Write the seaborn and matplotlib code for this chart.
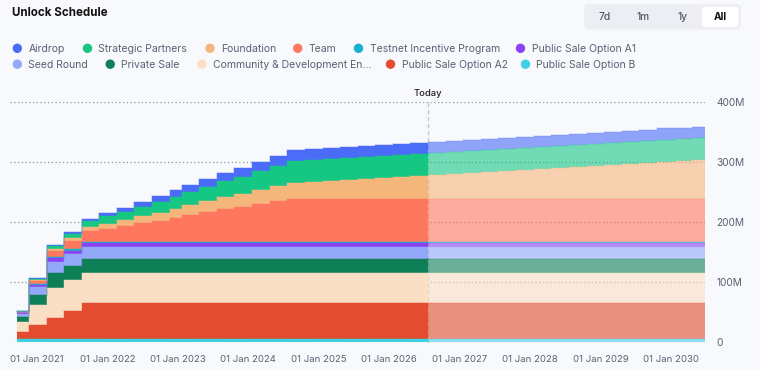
import matplotlib
matplotlib.use("Agg")
import matplotlib.pyplot as plt
from matplotlib.patches import FancyBboxPatch, Circle
from matplotlib.transforms import blended_transform_factory
import seaborn as sns
import pandas as pd
import numpy as np

# ---------------- data ----------------
step_dates = ["2020-09-21", "2020-11-21", "2021-02-21", "2021-05-21", "2021-08-21",
              "2021-11-21", "2022-02-21", "2022-05-21", "2022-08-21", "2022-11-21",
              "2023-01-21", "2023-04-21", "2023-07-21", "2023-10-21", "2024-01-21",
              "2024-04-21", "2024-07-21", "2024-10-21", "2025-01-21", "2025-04-21",
              "2025-07-21", "2025-10-21", "2026-01-21", "2026-04-21", "2026-07-21",
              "2026-10-21", "2027-01-21", "2027-04-21", "2027-07-21", "2027-10-21",
              "2028-01-21", "2028-04-21", "2028-07-21", "2028-10-21", "2029-01-21",
              "2029-04-21", "2029-07-21", "2029-10-21", "2030-01-21", "2030-04-21"]
end_date = "2030-06-27"
today_date = "2026-07-21"

# cumulative unlocked tokens (millions) per series, in legend order (top of stack first)
airdrop = [0.5, 2, 2.5, 3, 4.5, 5, 6, 8, 9.5, 11, 11.5, 12.5, 14, 15, 15.5, 17, 17.5, 18.5, 18.5, 18.5,
           18.5, 18.5, 18.5, 18.5, 18, 18, 18.5, 18.5, 18.5, 18.5, 18.5, 18.5, 18.5, 18.5, 18.5, 19, 19, 19, 19, 19]
strategic = [0.3, 2, 4, 7, 9.5, 12, 13.5, 16, 18, 19, 22, 24, 26, 28, 31, 33, 36, 36, 36, 36,
             36, 36, 36, 36, 36, 36, 36, 36, 36, 36, 36, 36, 36, 36, 36, 36, 36, 36, 36, 36]
foundation = [0.3, 1.5, 3.5, 5, 7, 8.5, 9.5, 11, 13, 15, 16.5, 18.5, 20.5, 22, 23.5, 25, 27, 28.5, 30, 32,
              33.5, 35, 37, 38.5, 40.5, 42, 43.5, 45, 47, 48.5, 50, 52, 53.5, 55, 57, 58.5, 60, 62, 63.5, 65]
team = [0, 4.5, 9.5, 14, 18, 22.5, 27.5, 32, 36, 41, 45.5, 50, 54.5, 59, 64, 68, 72, 72, 72, 72,
        72, 72, 72, 72, 72, 72, 72, 72, 72, 72, 72, 72, 72, 72, 72, 72, 72, 72, 72, 72]
testnet = [1, 1.5, 2, 2, 2, 2, 2, 2, 2, 2, 2, 2, 2, 2, 2, 2, 2, 2, 2, 2,
           2, 2, 2, 2, 2, 2, 2, 2, 2, 2, 2, 2, 2, 2, 2, 2, 2, 2, 2, 2]
public_a1 = [3, 4, 6, 6, 6, 6, 6, 6, 6, 6, 6, 6, 6, 6, 6, 6, 6, 6, 6, 6,
             6, 6, 6, 6, 6, 6, 6, 6, 6, 6, 6, 6, 6, 6, 6, 6, 6, 6, 6, 6]
seed = [5, 12.5, 19.5, 19.5, 19.5, 19.5, 19.5, 19.5, 19.5, 19.5, 19.5, 19.5, 19.5, 19.5, 19.5, 19.5, 19.5, 19.5, 19.5, 19.5,
        19.5, 19.5, 19.5, 19.5, 19.5, 19.5, 19.5, 19.5, 19.5, 19.5, 19.5, 19.5, 19.5, 19.5, 19.5, 19.5, 19.5, 19.5, 19.5, 19.5]
private = [8, 16, 24, 24, 24, 24, 24, 24, 24, 24, 24, 24, 24, 24, 24, 24, 24, 24, 24, 24,
           24, 24, 24, 24, 24, 24, 24, 24, 24, 24, 24, 24, 24, 24, 24, 24, 24, 24, 24, 24]
community = [17, 34, 50, 50, 50, 50, 50, 50, 50, 50, 50, 50, 50, 50, 50, 50, 50, 50, 50, 50,
             50, 50, 50, 50, 50, 50, 50, 50, 50, 50, 50, 50, 50, 50, 50, 50, 50, 50, 50, 50]
public_a2 = [12, 24, 36, 48, 60, 60, 60, 60, 60, 60, 60, 60, 60, 60, 60, 60, 60, 60, 60, 60,
             60, 60, 60, 60, 60, 60, 60, 60, 60, 60, 60, 60, 60, 60, 60, 60, 60, 60, 60, 60]
public_b = [5, 5, 5, 5, 5, 5, 5, 5, 5, 5, 5, 5, 5, 5, 5, 5, 5, 5, 5, 5,
            5, 5, 5, 5, 5, 5, 5, 5, 5, 5, 5, 5, 5, 5, 5, 5, 5, 5, 5, 5]

series_names = ["Airdrop", "Strategic Partners", "Foundation", "Team", "Testnet Incentive Program",
                "Public Sale Option A1", "Seed Round", "Private Sale", "Community & Development En...",
                "Public Sale Option A2", "Public Sale Option B"]
series_values = [airdrop, strategic, foundation, team, testnet, public_a1, seed, private,
                 community, public_a2, public_b]
series_colors = ["#4a6cf7", "#16c784", "#f5b67c", "#ff775f", "#16b1cc", "#8c43f6",
                 "#93a8f8", "#0e7f56", "#fbdfc4", "#e34c30", "#3fd0e4"]

year_ticks = [2021, 2022, 2023, 2024, 2025, 2026, 2027, 2028, 2029, 2030]
y_ticks = [0, 100, 200, 300, 400]

# ---------------- style ----------------
sns.set_theme(style="white")
plt.rcParams['font.family'] = ['Inter', 'DejaVu Sans']
BG = "#f8f9fd"
TXT = "#5b6172"

fig = plt.figure(figsize=(7.6, 3.7), dpi=100, facecolor=BG)
ax = fig.add_axes([10 / 760, 1 - 342.5 / 370, 695 / 760, (342.5 - 101.7) / 370])
ax.set_facecolor(BG)

dates = pd.to_datetime(step_dates)
end = pd.Timestamp(end_date)
today = pd.Timestamp(today_date)
past_idx = np.where(dates < today)[0]
fut_idx = np.where(dates >= today)[0]
x_past = list(dates[past_idx]) + [today]
x_fut = list(dates[fut_idx]) + [end]

base = np.zeros(len(dates))
for name, vals, col in reversed(list(zip(series_names, series_values, series_colors))):
    top = base + np.array(vals, dtype=float)
    bp = list(base[past_idx]) + [base[past_idx[-1]]]
    tp = list(top[past_idx]) + [top[past_idx[-1]]]
    bf = list(base[fut_idx]) + [base[fut_idx[-1]]]
    tf = list(top[fut_idx]) + [top[fut_idx[-1]]]
    ax.fill_between(x_past, bp, tp, step='post', color=col, lw=0, zorder=2)
    ax.fill_between(x_fut, bf, tf, step='post', color=col, alpha=0.6, lw=0, zorder=2)
    ax.step(x_past, tp, where='post', color=col, alpha=0.3, lw=1.1, zorder=3)
    ax.step(x_fut, tf, where='post', color=col, alpha=0.2, lw=1.1, zorder=3)
    base = top

ax.set_xlim(pd.Timestamp("2020-08-14"), end)
ax.set_ylim(0, 400)
ax.set_yticks(y_ticks)
ax.set_yticklabels(["0" if v == 0 else f"{v}M" for v in y_ticks])
ax.yaxis.tick_right()
tick_dates = [pd.Timestamp(f"{y}-01-01") for y in year_ticks]
ax.set_xticks(tick_dates)
ax.set_xticklabels([f"01 Jan {y}" for y in year_ticks])
ax.tick_params(axis='x', length=0, pad=9, labelsize=6.9, labelcolor=TXT)
ax.tick_params(axis='y', length=0, pad=8, labelsize=7.3, labelcolor=TXT)
for lab in ax.get_yticklabels():
    lab.set_horizontalalignment('left')
for s in ax.spines.values():
    s.set_visible(False)
ax.grid(False)
ax.set_axisbelow(True)
ax.grid(axis='y', linestyle=(0, (1, 2)), color='#8f949c', lw=0.9, zorder=0)

ax.axvline(today, color='#c3c7cf', ls=(0, (3, 2)), lw=1, zorder=1)
trans = blended_transform_factory(ax.transData, ax.transAxes)
ax.text(today, 1.015, "Today", transform=trans, ha='center', va='bottom',
        fontsize=6.8, color='#222222', fontweight='medium')

# ---------------- overlay: title, buttons, legend ----------------
ov = fig.add_axes([0, 0, 1, 1], zorder=5)
ov.set_xlim(0, 760)
ov.set_ylim(370, 0)
ov.axis('off')
ov.patch.set_alpha(0)

ov.text(12, 12.5, "Unlock Schedule", fontsize=8.3, fontweight='bold', color='#111111',
        ha='left', va='center')

ov.add_patch(FancyBboxPatch((584, 4), 157, 25.5, boxstyle="round,pad=0,rounding_size=5",
                            fc='#eceef3', ec='none'))
ov.add_patch(FancyBboxPatch((702, 6.5), 36.5, 20.5, boxstyle="round,pad=0,rounding_size=4",
                            fc='#ffffff', ec='none'))
for lbl, xc in zip(["7d", "1m", "1y"], [604.3, 643.3, 682.3]):
    ov.text(xc, 16.5, lbl, fontsize=7.3, color='#4f5564', ha='center', va='center',
            fontweight='medium')
ov.text(720.5, 16.5, "All", fontsize=7.3, color='#111111', ha='center', va='center',
        fontweight='bold')

legend_pos = [(17.3, 48.3), (87.5, 48.3), (210, 48.3), (297.7, 48.3), (358.5, 48.3), (520.5, 48.3),
              (17.3, 64.2), (110.2, 64.2), (201.8, 64.2), (390.5, 64.2), (525.5, 64.2)]
for name, col, (mx, my) in zip(series_names, series_colors, legend_pos):
    ov.add_patch(Circle((mx, my), 4.7, fc=col, ec='none'))
    ov.text(mx + 11, my + 0.3, name, fontsize=7.5, color=TXT, ha='left', va='center')

fig.savefig("out.png", dpi=100, facecolor=BG)
